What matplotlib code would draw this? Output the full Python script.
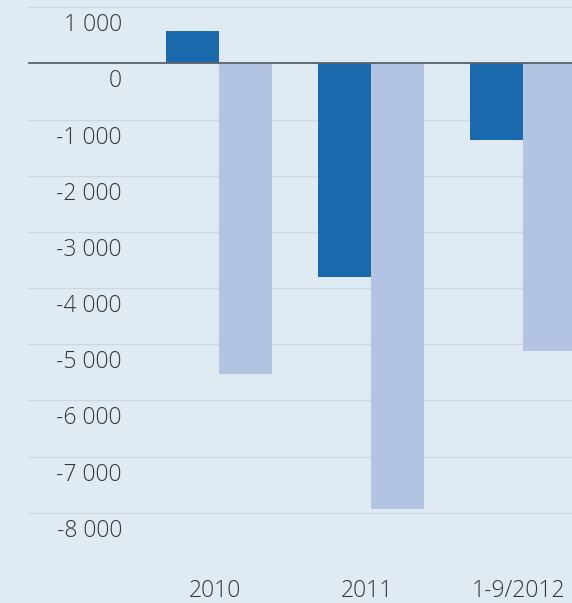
import numpy as np
import matplotlib.pyplot as plt
from matplotlib import transforms

plt.rcParams['font.family'] = ['Open Sans', 'DejaVu Sans']

categories = ['2010', '2011', '1-9/2012']
dark_values = [580, -3800, -1360]
light_values = [-5530, -7940, -5120]
yticks = [1000, 0, -1000, -2000, -3000, -4000, -5000, -6000, -7000, -8000]

bg = '#e0eaf3'
dark_col = '#1a6aad'
light_col = '#b3c3e2'
text_col = '#363636'

W, H = 572, 603
fig = plt.figure(figsize=(W / 100, H / 100), dpi=100)
fig.patch.set_facecolor(bg)
# axes from x pixel 28 to the right edge, y pixel 0 to 569
ax = fig.add_axes([28 / W, (H - 569) / H, 1 - 28 / W, 569 / H])
ax.set_facecolor(bg)

x = np.arange(len(categories))
bw = 0.35
ax.bar(x - bw / 2, dark_values, bw, color=dark_col, zorder=3)
ax.bar(x + bw / 2, light_values, bw, color=light_col, zorder=3)

ax.set_xlim((28 - 219) / 152, (572 - 219) / 152)
ax.set_ylim(-9000, 1128)

for v in yticks + [-9000]:
    ax.axhline(v, color='#cdd7e1', lw=1, zorder=1)
ax.axhline(0, color='#5b636b', lw=1.3, zorder=4)

for s in ax.spines.values():
    s.set_visible(False)
ax.set_yticks([])
ax.set_xticks(x)
ax.set_xticklabels(categories, fontsize=16.5, color=text_col, fontweight='light')
ax.tick_params(axis='x', length=0, pad=7)
xoff = transforms.ScaledTranslation(-4 / 100, 0, fig.dpi_scale_trans)
for t in ax.get_xticklabels():
    t.set_transform(t.get_transform() + xoff)

# y labels sit inside the plot, a bit below their gridlines
trans = transforms.blended_transform_factory(ax.transAxes, ax.transData)
off = transforms.ScaledTranslation(0, -18 / 100, fig.dpi_scale_trans)
for v in yticks:
    lab = f"{v:,}".replace(",", " ")
    ax.text((122 - 28) / (W - 28), v, lab, transform=trans + off,
            ha='right', va='center', fontsize=16.5, color=text_col,
            fontweight='light')

fig.savefig('out.png', dpi=100, facecolor=bg)
